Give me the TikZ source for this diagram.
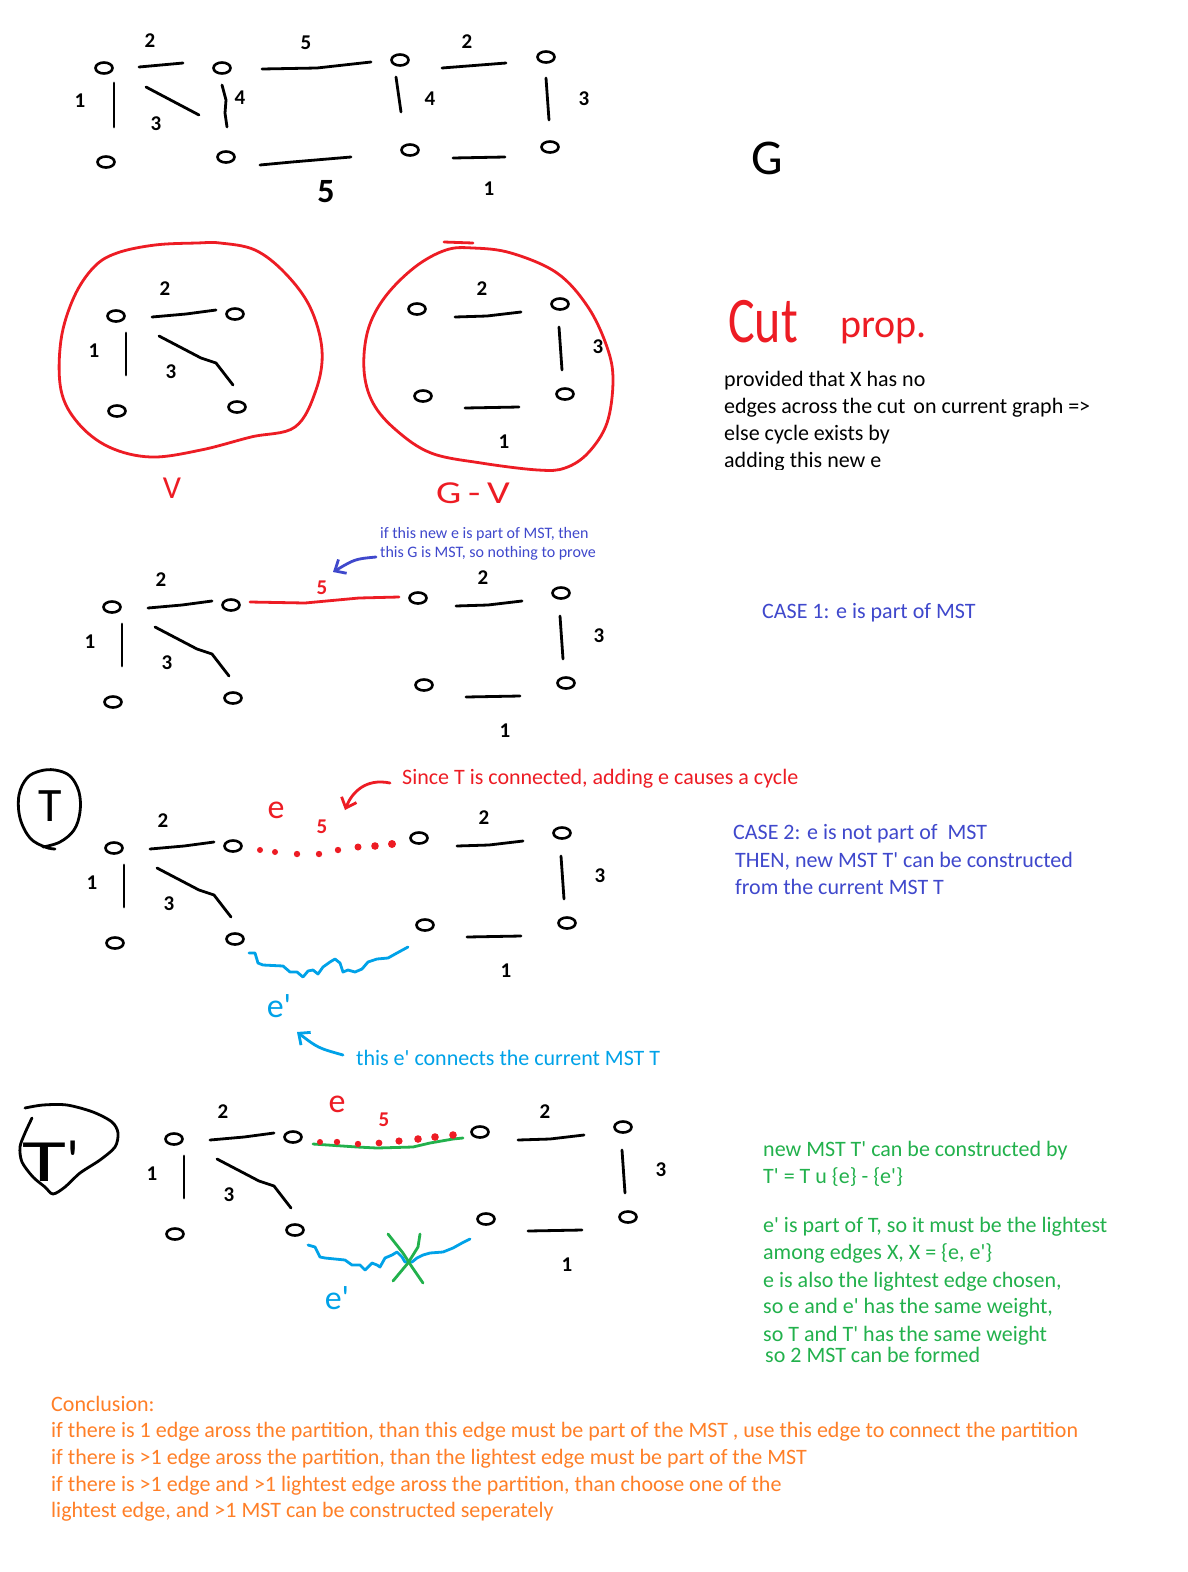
\documentclass[tikz,border=0pt]{standalone}
\usepackage{fontspec}
\setmainfont{Carlito}[Ligatures=TeXOff]
\usetikzlibrary{shapes.geometric,arrows.meta}
\definecolor{pred}{HTML}{ED1C24}
\definecolor{pind}{HTML}{3F48CC}
\definecolor{pcyan}{HTML}{00A2E8}
\definecolor{pgreen}{HTML}{22B14C}
\definecolor{porange}{HTML}{FF7F27}
\tikzset{
 hand/.style={line width=2.8pt, line cap=round, line join=round},
 blob/.style={draw, ellipse, line width=2.6pt, minimum width=17pt, minimum height=11pt, inner sep=0pt},
 dig/.style={font=\bfseries\fontsize{21}{21}\selectfont, inner sep=0pt},
 txt/.style={font=\fontsize{22}{27}\selectfont, anchor=base west, inner sep=0pt},
 smalltxt/.style={font=\fontsize{16}{19}\selectfont, anchor=base west, inner sep=0pt},
 barb/.style={-{Straight Barb[length=9pt,width=16pt]}},
 hande/.style={font=\fontsize{34}{34}\selectfont, inner sep=0pt},
 rdot/.style={fill=pred, draw=none},
}
\newcommand\leftpart[3]{%
\begin{scope}[shift={(#2,#3)}]
\node[blob] (#1A) at (0,0) {};
\node[blob] (#1B) at (119,-2) {};
\node[blob] (#1C) at (1,95) {};
\node[blob] (#1D) at (121,91) {};
\draw[hand] ([shift={(36,1)}]#1A.center) -- ([shift={(70,-2)}]#1A.center) -- ([shift={(-19,-4)}]#1B.center);
\draw[hand] ([shift={(10,17)}]#1A.center) -- ([shift={(9,-36)}]#1C.center);
\draw[hand] ([shift={(43,20)}]#1A.center) -- ([shift={(85,42)}]#1A.center) -- ([shift={(100,47)}]#1A.center) -- ([shift={(-4,-22)}]#1D.center);
\node[dig] (#1w2) at (49,-27) {2};
\node[dig] (#1w1) at (-22,35) {1};
\node[dig] (#1w3) at (55,56) {3};
\end{scope}}
\newcommand\rightpart[3]{%
\begin{scope}[shift={(#2,#3)}]
\node[blob] (#1E) at (0,0) {};
\node[blob] (#1G) at (143,-5) {};
\node[blob] (#1F) at (6,87) {};
\node[blob] (#1H) at (148,85) {};
\draw[hand] ([shift={(38,8)}]#1E.center) -- ([shift={(70,7)}]#1E.center) -- ([shift={(-39,8)}]#1G.center);
\draw[hand] ([shift={(-1,23)}]#1G.center) -- ([shift={(-3,-24)}]#1H.center);
\draw[hand] ([shift={(42,12)}]#1F.center) -- ([shift={(-46,13)}]#1H.center);
\node[dig] (#1w2) at (65,-20) {2};
\node[dig] (#1w3) at (181,38) {3};
\node[dig] (#1w1) at (87,133) {1};
\end{scope}}
\begin{document}
\begin{tikzpicture}[x=1pt,y=-1pt]
\fill[white] (0,0) rectangle (1188,1572);
\useasboundingbox (0,0) rectangle (1188,1572);

% ---------------- top graph G
\node[blob] (gA) at (104,68) {};
\node[blob] (gB) at (222,68) {};
\node[blob] (gC) at (106,162) {};
\node[blob] (gD) at (226,157) {};
\node[blob] (gE) at (400,60) {};
\node[blob] (gF) at (410,150) {};
\node[blob] (gG) at (546,57) {};
\node[blob] (gH) at (550,147) {};
\draw[hand] ([shift={(35,-1)}]gA.center) -- ([shift={(-39,-5)}]gB.center);
\draw[hand] ([shift={(10,15)}]gA.center) -- ([shift={(8,-35)}]gC.center);
\draw[hand] ([shift={(42,19)}]gA.center) -- ([shift={(95,47)}]gA.center);
\draw[hand] ([shift={(0,17)}]gB.center) -- ([shift={(4,32)}]gB.center) -- ([shift={(-1,-44)}]gD.center) -- ([shift={(1,-30)}]gD.center);
\draw[hand] ([shift={(40,1)}]gB.center) -- ([shift={(95,0)}]gB.center) -- ([shift={(-29,2)}]gE.center);
\draw[hand] ([shift={(34,8)}]gD.center) -- ([shift={(66,5)}]gD.center) -- ([shift={(-59,7)}]gF.center);
\draw[hand] ([shift={(-4,17)}]gE.center) -- ([shift={(-9,-38)}]gF.center);
\draw[hand] ([shift={(42,8)}]gE.center) -- ([shift={(-40,6)}]gG.center);
\draw[hand] ([shift={(0,21)}]gG.center) -- ([shift={(-1,-27)}]gH.center);
\draw[hand] ([shift={(43,8)}]gF.center) -- ([shift={(-45,10)}]gH.center);
\node[dig] (g2a) at (150,41) {2};
\node[dig] (g1a) at (80,101) {1};
\node[dig] (g3a) at (156,124) {3};
\node[dig] (g4a) at (240,98) {4};
\node[dig] (g5a) at (306,43) {5};
\node[dig, font=\bfseries\fontsize{34}{34}\selectfont] (g5b) at (326,192) {5};
\node[dig] (g4b) at (430,99) {4};
\node[dig] (g2b) at (467,42) {2};
\node[dig] (g3b) at (584,99) {3};
\node[dig] (g1b) at (489,189) {1};
\node[anchor=base, inner sep=0, font=\fontsize{50}{50}\selectfont] (glabel) at (767,174) {G};

% ---------------- V and G-V
\leftpart{v}{116}{316}
\rightpart{w}{417}{309}
\draw[pred, hand] plot[smooth cycle, tension=0.6] coordinates {(197,243) (155,245) (117,253) (94,267) (74,297) (61,340) (61,390) (78,423) (109,447) (151,457) (201,450) (251,437) (295,427) (316,390) (322,350) (310,307) (285,273) (255,250) (220,243)};
\draw[pred, hand] plot[smooth cycle, tension=0.6] coordinates {(473,248) (446,250) (415,267) (385,297) (368,330) (364,370) (373,403) (396,430) (431,453) (481,463) (538,470) (565,468) (588,453) (607,423) (613,380) (607,347) (588,307) (557,273) (511,253)};
\draw[pred, hand] (444,242) -- (473,243);
\node[anchor=base, inner sep=0, text=pred, font=\fontsize{32}{32}\selectfont] (vlabel) at (172,498) {V};
\node[anchor=base, inner sep=0, text=pred, font=\fontsize{32}{32}\selectfont] (gvlabel) at (473,503) {\scalebox{1.25}[1]{G\,-\,V}};

% ---------------- Cut prop
\node[anchor=base west, inner sep=0, text=pred, font=\fontsize{50}{50}\selectfont] (cut) at (728,342) {\scalebox{1}[1.3]{Cut}};
\node[anchor=base west, inner sep=0, text=pred, font=\fontsize{40}{40}\selectfont] (prop) at (840,337) {prop.};
\node[txt] (c1) at (724,386) {provided that X has no};
\node[txt] (c2) at (724,413) {edges across the cut\hspace{3pt} on current graph =>};
\node[txt] (c3) at (724,440) {else cycle exists by};
\begin{scope}
\clip (700,440) rectangle (1000,469);
\node[txt] (c4) at (724,467) {adding this new e};
\end{scope}

% ---------------- CASE 1
\leftpart{a}{112}{607}
\rightpart{b}{418}{598}
\draw[pred, hand] ([shift={(19,-3)}]aB.center) -- ([shift={(74,-2)}]aB.center) -- ([shift={(128,-7)}]aB.center) -- ([shift={(-19,-1)}]bE.center);
\node[dig, text=pred] (a5) at (322,588) {5};
\node[smalltxt, text=pind] (if1) at (380,538) {if this new e is part of MST, then};
\node[smalltxt, text=pind] (if2) at (380,557) {this G is MST, so nothing to prove};
\coordinate (bl1) at (376,557);
\coordinate (bl2) at (333,572);
\draw[pind, hand, barb] (bl1) .. controls (355,559) .. (bl2);
\node[txt, text=pind] (case1) at (762,618) {CASE 1: e is part of MST};

% ---------------- T section
\draw[hand] plot[smooth, tension=0.6] coordinates {(55,849) (45,847) (30,838) (20,818) (19,795) (27,778) (40,771) (55,770) (70,776) (79,792) (80,812) (74,830) (60,842) (43,847)};
\node[inner sep=0, font=\fontsize{48}{48}\selectfont] (tT) at (50,806) {T};
\leftpart{t}{114}{848}
\rightpart{u}{419}{838}
\foreach \px/\py/\r in {260/850/3, 275/852/3, 297/854/3.2, 319/854/3.2, 338/850/3.2, 358/847/3.5, 375/846/3.8, 392/844/4}
  \fill[rdot] (\px,\py) circle[radius=\r];
\node[hande, text=pred] (te) at (276,810) {e};
\node[dig, text=pred] (t5) at (322,827) {5};
\node[txt, text=pred] (since) at (402,784) {Since T is connected, adding e causes a cycle};
\coordinate (ra1) at (390,783);
\coordinate (ra2) at (345,810);
\draw[pred, hand, barb] (ra1) .. controls (366,778) and (352,792) .. (ra2);
\draw[pcyan, hand] ([shift={(14,14)}]tD.center) -- (255,953) -- (258,963) -- (263,965) -- (283,966) -- (290,972) -- (297,972) -- (303,977) -- (308,971) -- (313,970) -- (318,974) -- (323,967) -- (330,962) -- (335,959) -- (340,963) -- (343,972) -- (348,970) -- (355,972) -- (362,969) -- (368,962) -- (377,959) -- (388,958) -- (397,953) -- ([shift={(-17,22)}]uF.center);
\node[hande, text=pcyan] (tep) at (279,1006) {e'};
\node[txt, text=pcyan] (conn) at (356,1065) {this e' connects the current MST T};
\coordinate (ca1) at (343,1055);
\coordinate (ca2) at (297,1032);
\draw[pcyan, hand, barb] (ca1) .. controls (318,1048) .. (ca2);
\node[txt, text=pind] (case2a) at (733,839) {CASE 2: e is not part of\ \ MST};
\node[txt, text=pind] (case2b) at (735,867) {THEN, new MST T' can be constructed};
\node[txt, text=pind] (case2c) at (735,894) {from the current MST T};

% ---------------- T' section
\draw[hand] plot[smooth, tension=0.5] coordinates {(32,1118) (25,1133) (20,1147) (22,1162) (33,1177) (45,1187) (53,1194) (65,1187) (80,1173) (100,1160) (115,1147) (118,1133) (112,1122) (93,1112) (67,1105) (43,1105) (25,1108)};
\node[anchor=base west, inner sep=0, font=\fontsize{60}{60}\selectfont] (tpl) at (22,1181) {\scalebox{1.5}[1]{T}'};
\leftpart{p}{174}{1139}
\rightpart{q}{480}{1132}
\draw[pgreen, hand] ([shift={(20,7)}]pB.center) -- (357,1147) -- (377,1148) -- (413,1147) -- (430,1143) -- (453,1139) -- ([shift={(-17,6)}]qE.center);
\foreach \px/\py/\r in {320/1142/3, 337/1142/3.2, 358/1144/3.2, 379/1143/3.4, 399/1141/3.6, 418/1139/3.8, 435/1137/3.8, 453/1135/3.8}
  \fill[rdot] (\px,\py) circle[radius=\r];
\node[hande, text=pred] (pe) at (337,1104) {e};
\node[dig, text=pred] (p5) at (384,1120) {5};
\draw[pcyan, hand] ([shift={(13,15)}]pD.center) -- (315,1247) -- (320,1257) -- (325,1258) -- (345,1260) -- (352,1265) -- (360,1265) -- (365,1270) -- (372,1263) -- (377,1265) -- (380,1267) -- (385,1258) -- (392,1255) -- (397,1252) -- (402,1257) -- (405,1262) -- (412,1262) -- (417,1258) -- (423,1255) -- (430,1253) -- (443,1252) -- (453,1248) -- (462,1243) -- ([shift={(-16,20)}]qF.center);
\draw[pgreen, hand] (388,1234) -- (403,1253) -- (412,1267) -- (423,1283);
\draw[pgreen, hand] (420,1234) -- (418,1247) -- (408,1263) -- (393,1281);
\node[hande, text=pcyan] (pep) at (337,1298) {e'};
\node[txt, text=pgreen] (gr1) at (763,1156) {new MST T' can be constructed by};
\node[txt, text=pgreen] (gr2) at (763,1183) {T' = T u \{e\} - \{e'\}};
\node[txt, text=pgreen] (gr3) at (763,1232) {e' is part of T, so it must be the lightest};
\node[txt, text=pgreen] (gr4) at (763,1259) {among edges X, X = \{e, e'\}};
\node[txt, text=pgreen] (gr5) at (763,1287) {e is also the lightest edge chosen,};
\node[txt, text=pgreen] (gr6) at (763,1313) {so e and e' has the same weight,};
\node[txt, text=pgreen] (gr7) at (763,1341) {so T and T' has the same weight};
\node[txt, text=pgreen] (gr8) at (765,1362) {so 2 MST can be formed};

% ---------------- Conclusion
\node[txt, text=porange] (o1) at (51,1411) {Conclusion:};
\node[txt, text=porange] (o2) at (51,1437) {if there is 1 edge aross the partition, than this edge must be part of the MST , use this edge to connect the partition};
\node[txt, text=porange] (o3) at (51,1464) {if there is >1 edge aross the partition, than the lightest edge must be part of the MST};
\node[txt, text=porange] (o4) at (51,1491) {if there is >1 edge and >1 lightest edge aross the partition, than choose one of the};
\node[txt, text=porange] (o5) at (51,1517) {lightest edge, and >1 MST can be constructed seperately};
\end{tikzpicture}
\end{document}
